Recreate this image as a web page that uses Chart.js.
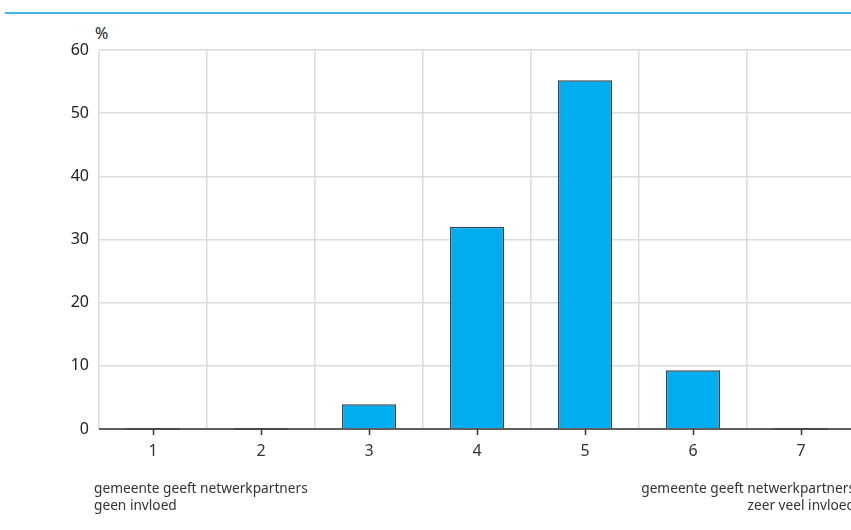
<!DOCTYPE html>
<html><head><meta charset="utf-8">
<script src="https://cdn.jsdelivr.net/npm/chart.js@4"></script>
<style>
html,body{margin:0;padding:0;background:#fff;width:851px;height:530px;overflow:hidden;position:relative;font-family:"Noto Sans",sans-serif;color:#333}
#wrap{position:absolute;left:0;top:0;width:860px;height:530px}
#topline{position:absolute;left:5px;top:12px;width:846px;height:2px;background:#41b6e6}
.note{position:absolute;font-size:13.7px;line-height:17px;color:#333}
#pct{position:absolute;left:95px;top:22px;font-size:16px;color:#222}
</style></head>
<body>
<div id="topline"></div>
<div id="pct">%</div>
<div id="wrap"><canvas id="c" width="860" height="530"></canvas></div>
<div class="note" style="left:94px;top:479px">gemeente geeft netwerkpartners<br>geen invloed</div>
<div class="note" style="right:-4px;top:479px;text-align:right">gemeente geeft netwerkpartners<br>zeer veel invloed</div>
<script>
const categories = ["1","2","3","4","5","6","7"];
const percentages = [0, 0, 3.9, 32, 55.2, 9.3, 0];
const yTicks = [0, 10, 20, 30, 40, 50, 60];

const tickMarks = {
  id: 'tickMarks',
  afterDatasetsDraw(chart) {
    const ctx = chart.ctx, x = chart.scales.x, y = chart.scales.y;
    const y0 = y.getPixelForValue(0);
    ctx.save();
    ctx.lineWidth = 1.5;
    const meta = chart.getDatasetMeta(0);
    meta.data.forEach((bar, i) => {
      if (percentages[i] === 0) {
        ctx.strokeStyle = '#777';
        ctx.beginPath();
        ctx.moveTo(bar.x - bar.width / 2, y0);
        ctx.lineTo(bar.x + bar.width / 2, y0);
        ctx.stroke();
      }
    });
    ctx.strokeStyle = '#333';
    ctx.beginPath();
    ctx.moveTo(chart.chartArea.left, y0);
    ctx.lineTo(chart.chartArea.right, y0);
    ctx.stroke();
    categories.forEach((c, i) => {
      const px = Math.round(x.getPixelForValue(i)) + 0.5;
      ctx.beginPath();
      ctx.moveTo(px, y0);
      ctx.lineTo(px, y0 + 6);
      ctx.stroke();
    });
    ctx.restore();
  }
};

new Chart(document.getElementById('c'), {
  type: 'bar',
  data: {
    labels: categories,
    datasets: [{
      data: percentages,
      backgroundColor: '#00aeef',
      borderColor: '#36454f',
      borderWidth: 1.5,
      borderSkipped: 'bottom',
      barPercentage: 0.5,
      categoryPercentage: 1.0
    }]
  },
  options: {
    responsive: false,
    animation: false,
    devicePixelRatio: 1,
    layout: { padding: { top: 50, left: 0, right: 5, bottom: 0 } },
    plugins: { legend: { display: false }, tooltip: { enabled: false } },
    scales: {
      x: {
        offset: true,
        grid: { offset: true, color: '#dcdcdc', lineWidth: 1.5, drawTicks: false },
        border: { display: false },
        ticks: { color: '#333', font: { family: 'Noto Sans', size: 16 }, padding: 13 },
        afterFit: s => { s.height = 101; }
      },
      y: {
        min: 0, max: 60,
        afterBuildTicks: s => { s.ticks = yTicks.map(v => ({ value: v })); },
        grid: { color: '#dcdcdc', lineWidth: 1.5, drawTicks: false },
        border: { display: false },
        ticks: { color: '#222', font: { family: 'Noto Sans', size: 16 }, padding: 10 },
        afterFit: s => { s.width = 99; }
      }
    }
  },
  plugins: [tickMarks]
});
</script>
</body></html>
